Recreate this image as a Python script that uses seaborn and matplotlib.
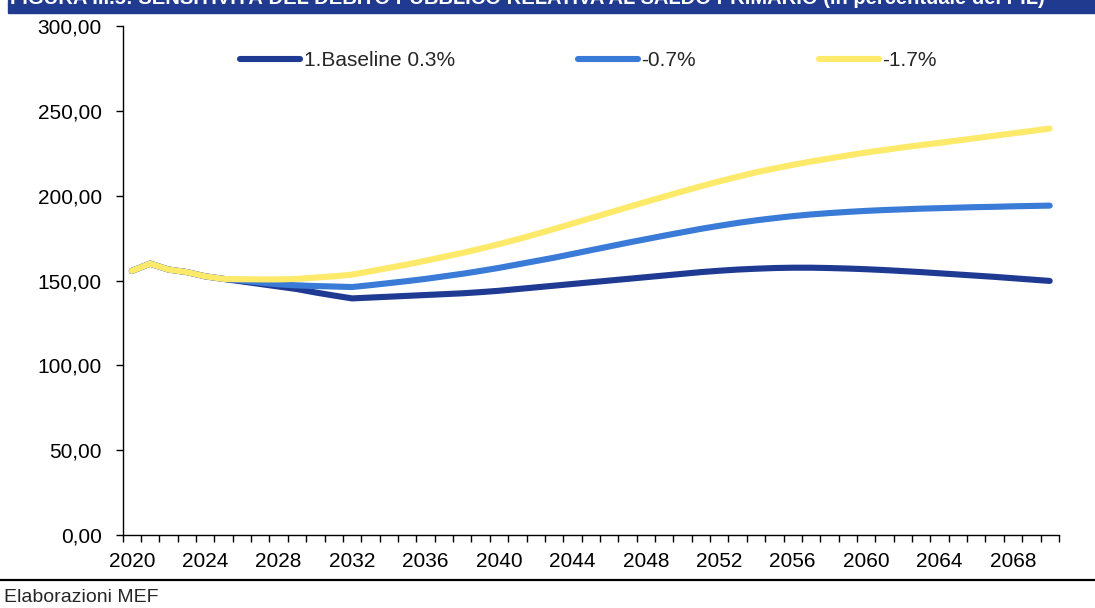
import numpy as np
import pandas as pd
import matplotlib
matplotlib.use("Agg")
import matplotlib.pyplot as plt
import seaborn as sns
from matplotlib.ticker import FuncFormatter

# --- data ---
years = list(range(2020, 2071))

baseline = [155.7, 160.0, 156.5, 155.0, 152.5, 151.0, 149.5, 148.0, 146.5, 145.0,
            143.0, 141.2, 139.5, 140.0, 140.5, 141.0, 141.5, 142.0, 142.5, 143.2,
            144.0, 145.0, 146.0, 147.0, 148.0, 149.0, 150.0, 151.0, 152.0, 153.0,
            154.0, 155.0, 155.8, 156.5, 157.0, 157.4, 157.6, 157.6, 157.4, 157.1,
            156.7, 156.2, 155.6, 155.0, 154.3, 153.6, 152.9, 152.2, 151.4, 150.6,
            149.8]

minus_07 = [155.7, 160.0, 156.5, 155.0, 152.5, 151.0, 150.0, 148.8, 147.8, 147.2,
            146.8, 146.5, 146.2, 147.3, 148.5, 149.7, 151.0, 152.5, 154.0, 155.7,
            157.5, 159.5, 161.5, 163.5, 165.7, 167.9, 170.1, 172.3, 174.4, 176.5,
            178.5, 180.5, 182.3, 184.0, 185.5, 186.8, 188.0, 189.0, 189.8, 190.5,
            191.1, 191.6, 192.0, 192.4, 192.7, 193.0, 193.3, 193.5, 193.8, 194.0,
            194.2]

minus_17 = [155.7, 160.0, 156.5, 155.0, 152.5, 151.0, 150.8, 150.7, 150.7, 151.0,
            151.8, 152.5, 153.5, 155.5, 157.5, 159.5, 161.7, 164.0, 166.3, 168.8,
            171.5, 174.3, 177.3, 180.4, 183.6, 186.8, 190.0, 193.2, 196.4, 199.5,
            202.6, 205.6, 208.5, 211.2, 213.8, 216.1, 218.2, 220.2, 222.0, 223.8,
            225.5, 227.0, 228.5, 229.9, 231.2, 232.6, 234.0, 235.4, 236.8, 238.2,
            239.6]

series_names = ["1.Baseline 0.3%", "-0.7%", "-1.7%"]
series_colors = ["#1F3A93", "#3A7BD8", "#FDE96A"]

title = "FIGURA III.5: SENSITIVITÀ DEL DEBITO PUBBLICO RELATIVA AL SALDO PRIMARIO (in percentuale del PIL)"
source = "Elaborazioni MEF"

df = pd.DataFrame({
    "anno": years * 3,
    "valore": baseline + minus_07 + minus_17,
    "scenario": [series_names[0]] * len(years)
                + [series_names[1]] * len(years)
                + [series_names[2]] * len(years),
})

# --- figure ---
sns.set_style("white")
plt.rcParams["font.family"] = ["Liberation Sans", "DejaVu Sans"]

fig = plt.figure(figsize=(10.95, 6.08), dpi=100)
ax = fig.add_axes([0.112, 0.120, 0.855, 0.837])

sns.lineplot(data=df, x="anno", y="valore", hue="scenario", hue_order=series_names,
             palette=series_colors, linewidth=4.4, ax=ax, legend=False,
             solid_capstyle="round", solid_joinstyle="round")

ax.set_xlim(2019.5, 2070.5)
ax.set_ylim(0, 300)
ax.set_xlabel("")
ax.set_ylabel("")

# year labels every 4 years, small ticks between every category
ax.set_xticks(list(range(2020, 2069, 4)))
ax.set_xticks(np.arange(2019.5, 2071, 1.0), minor=True)
ax.tick_params(axis="x", which="major", length=0, pad=12, labelsize=15, colors="black")
ax.tick_params(axis="x", which="minor", length=5, width=1, direction="out", color="black",
               bottom=True)
ax.set_yticks(range(0, 301, 50))
ax.yaxis.set_major_formatter(FuncFormatter(lambda v, p: f"{v:.2f}".replace(".", ",")))
ax.tick_params(axis="y", length=5, width=1, direction="out", left=True, labelsize=15,
               pad=10, colors="black")

for s in ["top", "right"]:
    ax.spines[s].set_visible(False)
for s in ["left", "bottom"]:
    ax.spines[s].set_color("black")
    ax.spines[s].set_linewidth(1)

# legend
handles = [plt.Line2D([], [], color=c, linewidth=4.4, solid_capstyle="round")
           for c in series_colors]
fig.legend(handles, series_names, loc="center left", bbox_to_anchor=(240 / 1095, 1 - 61 / 608),
           ncol=3, frameon=False, fontsize=15, handlelength=2.9, handletextpad=0.15,
           columnspacing=5.9, borderpad=0, borderaxespad=0)

# title band (cut off at top) and footer
fig.patches.append(plt.Rectangle((8 / 1095, 1 - 13 / 608), 1, 13 / 608,
                                 transform=fig.transFigure, color="#1F3A8F", zorder=0))
fig.text(10 / 1095, 1 - 4 / 608, title, color="white", fontsize=14.5, fontweight="bold",
         va="baseline", ha="left")
fig.add_artist(plt.Line2D([0, 1], [1 - 580 / 608, 1 - 580 / 608], transform=fig.transFigure,
                          color="black", linewidth=1.6))
fig.text(4 / 1095, 1 - 597 / 608, source, fontsize=14, va="center", ha="left")

fig.savefig("out.png", dpi=100)
